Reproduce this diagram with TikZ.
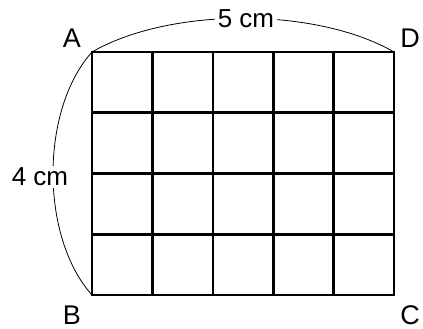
\documentclass[tikz,border=0pt]{standalone}
\usepackage{fontspec}
\setmainfont{Liberation Sans}
\begin{document}
\begin{tikzpicture}[x=1pt,y=-1pt,
  lbl/.style={font=\fontsize{27}{27}\selectfont, inner sep=0pt},
  dim/.style={font=\fontsize{26}{26}\selectfont, fill=white, inner sep=3pt},
  gridline/.style={line width=2.6pt, line cap=rect},
  arcline/.style={line width=0.8pt}]
\useasboundingbox (0,0) rectangle (423,329);
\coordinate (A) at (92,52);
\coordinate (D) at (394,52);
\coordinate (B) at (92,295);
\coordinate (C) at (394,295);
% arcs
\draw[arcline] (A) .. controls (170,7) and (316,7) .. (D);
\draw[arcline] (A) .. controls (40,110) and (40,237) .. (B);
\node[dim] (top) at (246,19) {5 cm};
\node[dim, inner sep=1.5pt] (left) at (40,177) {4 cm};
% grid
\foreach \x in {92,152.4,212.8,273.2,333.6,394} \draw[gridline] (\x,52) -- (\x,295);
\foreach \y in {52,112.75,173.5,234.25,295} \draw[gridline] (92,\y) -- (394,\y);
% labels
\node[lbl] (la) at (72,38) {A};
\node[lbl] (ld) at (410,38) {D};
\node[lbl] (lb) at (72,315) {B};
\node[lbl] (lc) at (410,315) {C};
\end{tikzpicture}
\end{document}
